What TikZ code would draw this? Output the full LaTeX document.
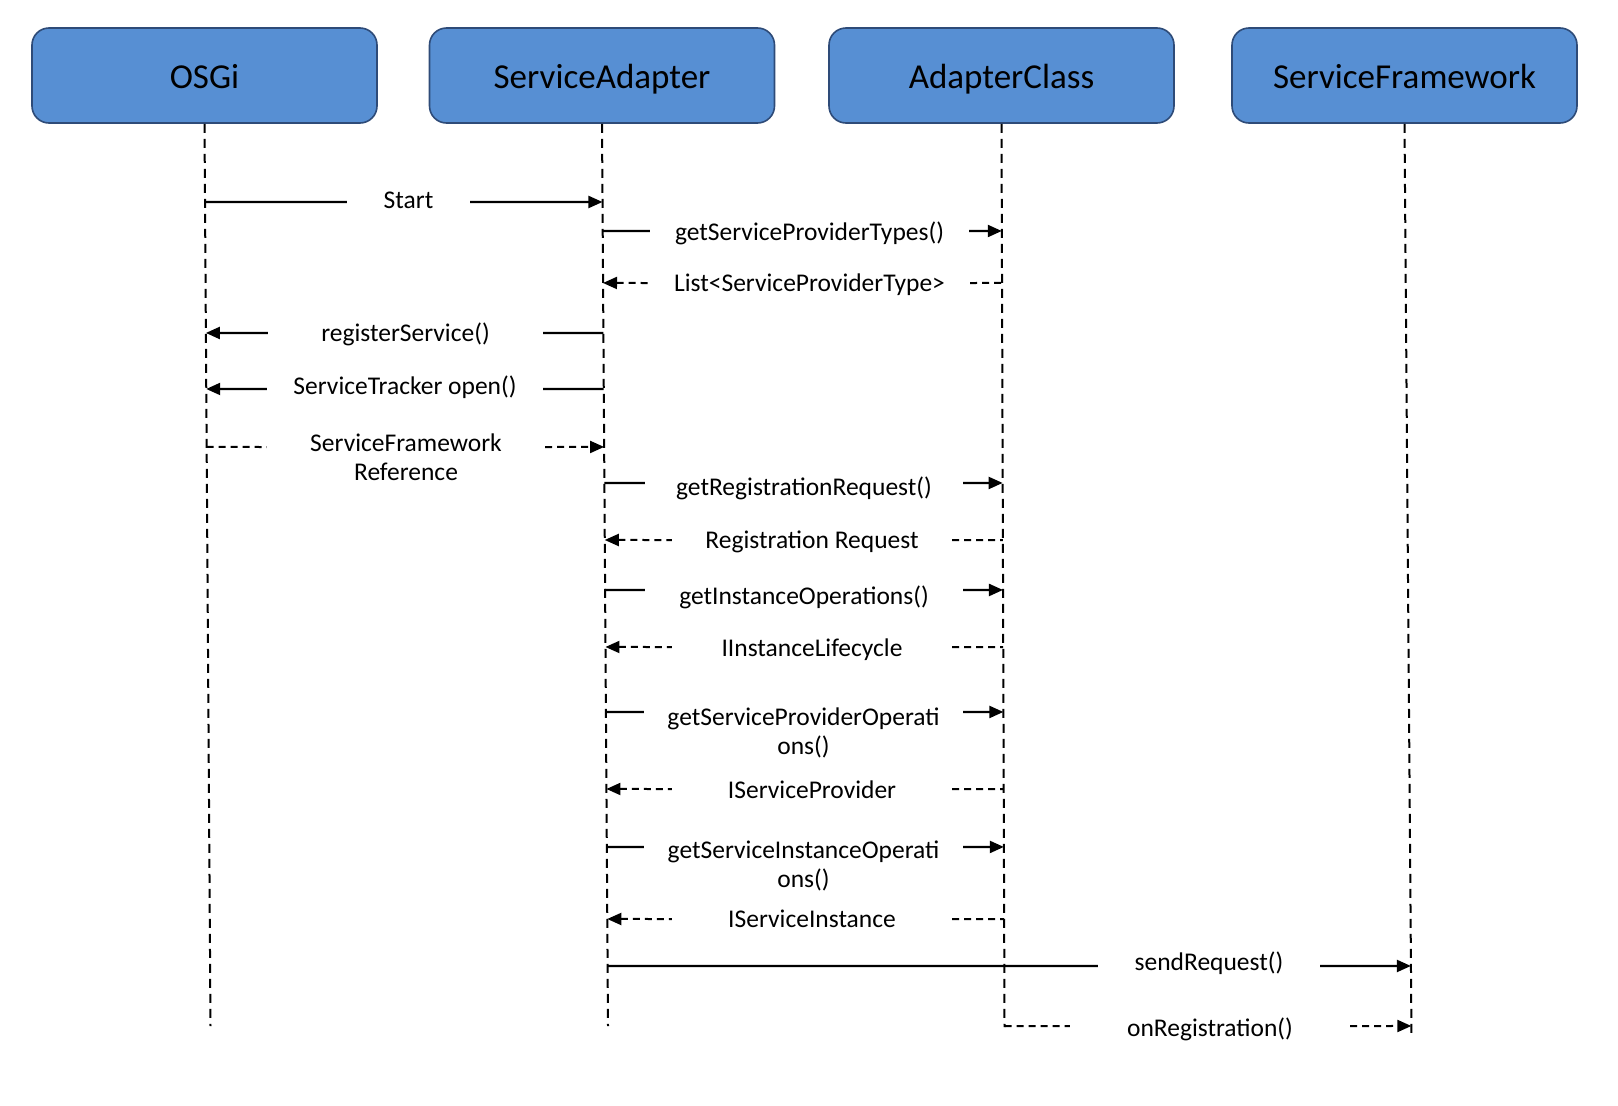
\documentclass[tikz,border=0pt]{standalone}
\usepackage{fontspec}
\setmainfont{Carlito}
\usetikzlibrary{arrows.meta,positioning}

\definecolor{actorfill}{HTML}{578FD3}
\definecolor{actorline}{HTML}{2E4B78}

\begin{document}
\begin{tikzpicture}[x=1pt,y=-1pt,
    actor/.style={draw=actorline, fill=actorfill, line width=1.6pt, rounded corners=17pt,
        minimum width=345pt, minimum height=95pt, text height=30pt, text depth=5pt,
        font=\fontsize{35}{42}\selectfont},
    lifeline/.style={line width=2pt, dash pattern=on 9pt off 6pt},
    msgtext/.style={inner sep=0pt, align=center, text height=18pt, text depth=6pt,
        font=\fontsize{25.5}{29}\selectfont},
    call/.style={line width=2.2pt},
    reply/.style={line width=2pt, dash pattern=on 7pt off 5pt},
    plain/.style={},
    lhead/.style={{Triangle[length=14pt,width=12pt]}-},
    rhead/.style={-{Triangle[length=14pt,width=12pt]}}]
    \useasboundingbox (0,0) rectangle (1618,1106);

    % Actors
    \node[actor] (osgi) at (204.5,75.5) {OSGi};
    \node[actor] (sa) at (602,75.5) {ServiceAdapter};
    \node[actor] (ac) at (1001.5,75.5) {AdapterClass};
    \node[actor] (sf) at (1404.5,75.5) {ServiceFramework};

    % Lifelines (they lean a little to the right)
    \foreach \a/\dx/\yend in {osgi/6/1026, sa/6/1026, ac/3/1027, sf/7/1038} {
        \coordinate (\a-end) at ([xshift=\dx pt]\a.south |- 0,\yend);
        \draw[lifeline] (\a.south) -- (\a-end);
    }

    % Messages (\by = baseline of the last text line)
    \foreach \y/\by/\cx/\w/\lft/\rgt/\ls/\rs/\kind/\txt [count=\i] in {
        202/208/408.5/123/osgi/sa/plain/rhead/call/{Start},
        231/240/809.5/319/sa/ac/plain/rhead/call/{getServiceProviderTypes()},
        283/291/809.5/321/sa/ac/lhead/plain/reply/{List<ServiceProviderType>},
        333/341/405.5/275/osgi/sa/lhead/plain/call/{registerService()},
        389/394/405/276/osgi/sa/lhead/plain/call/{ServiceTracker open()},
        447/480/406/278/osgi/sa/plain/rhead/reply/{ServiceFramework\\Reference},
        483/495/804/318/sa/ac/plain/rhead/call/{getRegistrationRequest()},
        540/548/812/280/sa/ac/lhead/plain/reply/{Registration Request},
        590/604/804/318/sa/ac/plain/rhead/call/{getInstanceOperations()},
        647/656/812/280/sa/ac/lhead/plain/reply/{IInstanceLifecycle},
        712/754/803.5/319/sa/ac/plain/rhead/call/{getServiceProviderOperati\\ons()},
        789/798/812/280/sa/ac/lhead/plain/reply/{IServiceProvider},
        847/887/803.5/319/sa/ac/plain/rhead/call/{getServiceInstanceOperati\\ons()},
        919/927/812/280/sa/ac/lhead/plain/reply/{IServiceInstance},
        966/970/1209/222/sa/sf/plain/rhead/call/{sendRequest()},
        1026/1036/1210/280/ac/sf/plain/rhead/reply/{onRegistration()}}
    {
        \node[msgtext, minimum width=\w pt, anchor=north] (msg\i) at (\cx,\by-18) {\txt};
        \coordinate (a\i) at (msg\i.west |- 0,\y);
        \coordinate (b\i) at (msg\i.east |- 0,\y);
        \draw[\kind, \ls] (intersection of \lft.south--\lft-end and a\i--b\i) -- (a\i);
        \draw[\kind, \rs] (b\i) -- (intersection of \rgt.south--\rgt-end and a\i--b\i);
    }
\end{tikzpicture}
\end{document}
